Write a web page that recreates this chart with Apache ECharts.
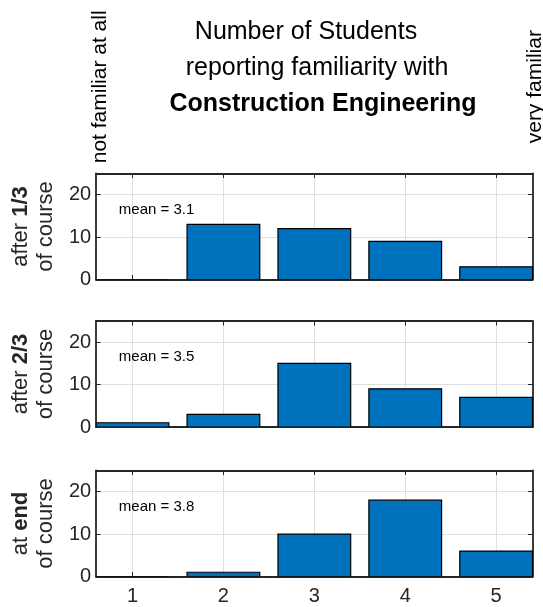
<!DOCTYPE html>
<html>
<head>
<meta charset="utf-8">
<script src="https://cdn.jsdelivr.net/npm/echarts@6/dist/echarts.min.js"></script>
<style>
  html, body { margin: 0; padding: 0; background: #ffffff; }
  #chart { width: 543px; height: 607px; }
</style>
</head>
<body>
<div id="chart"></div>
<script>
// Familiarity ratings (1 = not familiar at all, 5 = very familiar)
const ratings = [1, 2, 3, 4, 5];

// Number of students choosing each rating, per survey point
const countsAfterOneThird = [0, 13, 12, 9, 3];
const countsAfterTwoThirds = [1, 3, 15, 9, 7];
const countsAtEnd = [0, 1, 10, 18, 6];

// Panel row labels: plain part, bold part
const panelLabelPlain = ['after ', 'after ', 'at '];
const panelLabelBold = ['1/3', '2/3', 'end'];
const panelLabelSecond = 'of course';

const yTicks = [0, 10, 20];
const titleLines = ['Number of Students', 'reporting familiarity with', 'Construction Engineering'];
const scaleEndLow = 'not familiar at all';
const scaleEndHigh = 'very familiar';

const panelCounts = [countsAfterOneThird, countsAfterTwoThirds, countsAtEnd];

const FONT = '"Liberation Sans", Arial, Helvetica, sans-serif';
const AXIS_COLOR = '#262626';
const BAR_COLOR = '#0072BD';
const GRID_COLOR = '#e0e0e0';

const gridTops = [173.5, 321, 470.5];
const gridHeight = 106;
const gridLeft = 95.5;
const gridWidth = 437;

function meanRating(counts) {
  let total = 0, weighted = 0;
  counts.forEach((c, k) => { total += c; weighted += c * ratings[k]; });
  return weighted / total;
}

const grids = [], xAxes = [], yAxes = [], series = [];

panelCounts.forEach((counts, i) => {
  grids.push({ left: gridLeft, top: gridTops[i], width: gridWidth, height: gridHeight });

  const isLast = i === panelCounts.length - 1;
  const tickBase = { show: true, inside: true, length: 4.5, lineStyle: { color: AXIS_COLOR, width: 1 } };
  const lineBase = { show: true, onZero: false, lineStyle: { color: AXIS_COLOR, width: 1.8 } };

  // bottom x axis (with grid lines)
  xAxes.push({
    type: 'value', gridIndex: i, position: 'bottom', min: 0.6, max: 5.4,
    axisLine: lineBase,
    axisTick: Object.assign({ customValues: ratings }, tickBase),
    axisLabel: {
      show: isLast, customValues: ratings, fontSize: 20, color: AXIS_COLOR,
      fontFamily: FONT, margin: 10
    },
    splitLine: { show: true, lineStyle: { color: GRID_COLOR, width: 1 } }
  });
  // top x axis (box edge)
  xAxes.push({
    type: 'value', gridIndex: i, position: 'top', min: 0.6, max: 5.4,
    axisLine: lineBase,
    axisTick: Object.assign({ customValues: ratings }, tickBase),
    axisLabel: { show: false },
    splitLine: { show: false }
  });

  // left y axis
  yAxes.push({
    type: 'value', gridIndex: i, position: 'left', min: 0, max: 25,
    axisLine: lineBase,
    axisTick: Object.assign({ customValues: yTicks }, tickBase),
    axisLabel: {
      customValues: yTicks, fontSize: 20, color: AXIS_COLOR, fontFamily: FONT, margin: 5
    },
    splitLine: { show: true, lineStyle: { color: GRID_COLOR, width: 1 } },
    name: '{n|' + panelLabelPlain[i] + '}{b|' + panelLabelBold[i] + '}\n{n|' + panelLabelSecond + '}',
    nameLocation: 'middle',
    nameRotate: 90,
    nameGap: 31,
    nameTextStyle: {
      color: AXIS_COLOR, fontFamily: FONT, fontSize: 22, lineHeight: 25,
      rich: {
        n: { fontSize: 22, fontFamily: FONT, color: AXIS_COLOR, lineHeight: 25 },
        b: { fontSize: 22, fontFamily: FONT, color: AXIS_COLOR, fontWeight: 'bold', lineHeight: 25 }
      }
    }
  });
  // right y axis (box edge)
  yAxes.push({
    type: 'value', gridIndex: i, position: 'right', min: 0, max: 25,
    axisLine: lineBase,
    axisTick: Object.assign({ customValues: yTicks }, tickBase),
    axisLabel: { show: false },
    splitLine: { show: false }
  });

  // bars of width 0.8 centred on each rating
  series.push({
    type: 'custom',
    xAxisIndex: 2 * i, yAxisIndex: 2 * i,
    data: ratings.map((r, k) => [r, counts[k]]),
    encode: { x: 0, y: 1 },
    clip: true,
    renderItem: function (params, api) {
      const x = api.value(0), v = api.value(1);
      const p0 = api.coord([x - 0.4, v]);
      const p1 = api.coord([x + 0.4, 0]);
      const cs = params.coordSys;
      const shape = echarts.graphic.clipRectByRect(
        { x: p0[0], y: p0[1], width: p1[0] - p0[0], height: p1[1] - p0[1] },
        { x: cs.x, y: cs.y, width: cs.width, height: cs.height }
      );
      return shape && {
        type: 'rect', shape: shape,
        style: { fill: BAR_COLOR, stroke: '#000000', lineWidth: 1.2 }
      };
    }
  });

  // mean rating annotation
  series.push({
    type: 'custom',
    xAxisIndex: 2 * i, yAxisIndex: 2 * i,
    data: [[0.85, 16.5, 'mean = ' + meanRating(counts).toFixed(1)]],
    encode: { x: 0, y: 1 },
    renderItem: function (params, api) {
      const p = api.coord([api.value(0), api.value(1)]);
      return {
        type: 'text', x: p[0], y: p[1],
        style: {
          text: api.value(2), fill: '#000000', fontSize: 15, fontFamily: FONT,
          align: 'left', verticalAlign: 'middle'
        }
      };
    }
  });
});

const titleY = [31.8, 67.8, 104.5];
const titleX = [306, 317, 323];
const graphics = titleLines.map((t, k) => ({
  type: 'text', x: titleX[k], y: titleY[k],
  style: {
    text: t, fill: '#000000', fontSize: 25, fontFamily: FONT,
    fontWeight: k === 2 ? 'bold' : 'normal', align: 'center', verticalAlign: 'middle'
  }
}));
graphics.push({
  type: 'text', x: 100, y: 163.3, rotation: Math.PI / 2,
  style: { text: scaleEndLow, fill: '#000000', fontSize: 21, fontFamily: FONT, align: 'left', verticalAlign: 'middle' }
});
graphics.push({
  type: 'text', x: 535.5, y: 143.3, rotation: Math.PI / 2,
  style: { text: scaleEndHigh, fill: '#000000', fontSize: 21, fontFamily: FONT, align: 'left', verticalAlign: 'middle' }
});

const chart = echarts.init(document.getElementById('chart'), null, { renderer: 'canvas' });
chart.setOption({
  animation: false,
  backgroundColor: '#ffffff',
  textStyle: { fontFamily: FONT },
  grid: grids,
  xAxis: xAxes,
  yAxis: yAxes,
  series: series,
  graphic: graphics
});
</script>
</body>
</html>
